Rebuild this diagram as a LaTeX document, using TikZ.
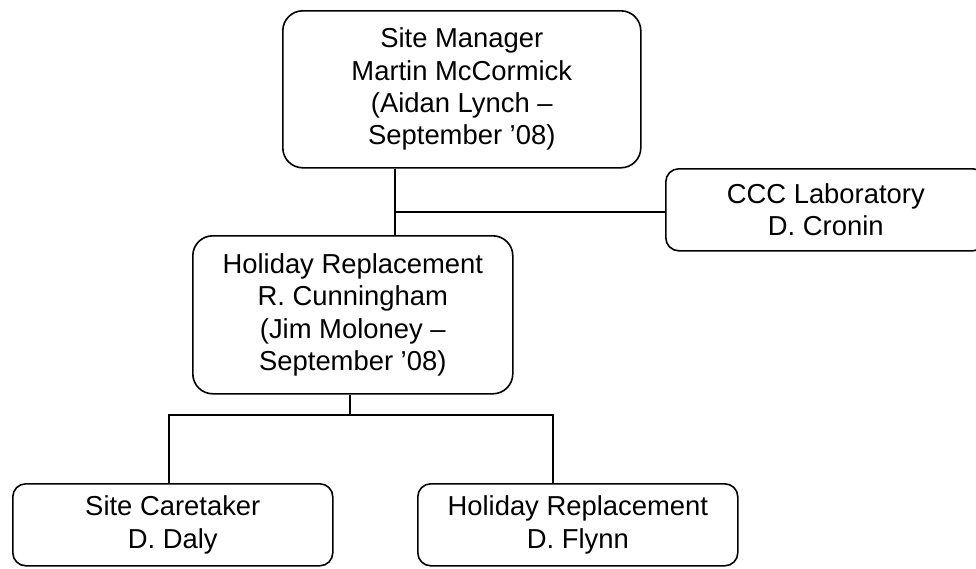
\documentclass[tikz,border=0pt]{standalone}
\usepackage{fontspec}
\setmainfont{Liberation Sans}
\begin{document}
\begin{tikzpicture}[x=1pt,y=-1pt,
  orgbox/.style={draw=black, line width=1.6pt, fill=white, rounded corners=#1,
    anchor=north west, inner sep=0pt, align=center,
    font=\fontsize{27.4}{32.3}\selectfont},
  orgbox/.default=20pt,
  conn/.style={draw=black, line width=1.6pt}]
\useasboundingbox[fill=white] (0,0) rectangle (976,568);
\node[orgbox=20pt, minimum width=358pt, minimum height=157pt] (a) at (282,10)
  {Site Manager\\Martin McCormick\\(Aidan Lynch –\\September ’08)};
\node[orgbox=13pt, minimum width=320pt, minimum height=82pt] (c) at (665,168)
  {CCC Laboratory\\D. Cronin};
\node[orgbox=20pt, minimum width=320pt, minimum height=158pt] (h) at (192,235)
  {Holiday Replacement\\R. Cunningham\\(Jim Moloney –\\September ’08)};
\node[orgbox=13pt, minimum width=320pt, minimum height=82pt] (s) at (12,483)
  {Site Caretaker\\D. Daly};
\node[orgbox=13pt, minimum width=320pt, minimum height=82pt] (f) at (417,483)
  {Holiday Replacement\\D. Flynn};
\coordinate (j1) at (395,212);
\coordinate (j2) at (350,415);
\coordinate (sl) at (169,415);
\coordinate (fr) at (553,415);
\draw[conn] (a.south -| j1) -- (h.north -| j1);
\draw[conn] (j1) -- (c.west |- j1);
\draw[conn] (h.south -| j2) -- (j2);
\draw[conn] (s.north -| sl) -- (sl) -- (fr) -- (f.north -| fr);
\end{tikzpicture}
\end{document}
